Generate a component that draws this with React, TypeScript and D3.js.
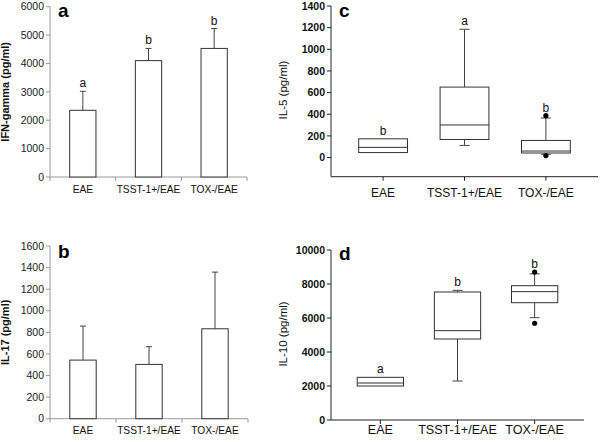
import React from "react";
import * as d3 from "d3";

const categories = ["EAE", "TSST-1+/EAE", "TOX-/EAE"];

// Panel a: IFN-gamma (mean, SD)
const ifnMean = [2350, 4100, 4530];
const ifnSd = [670, 430, 700];
const ifnLetters = ["a", "b", "b"];
const ifnTicks = [0, 1000, 2000, 3000, 4000, 5000, 6000];

// Panel b: IL-17 (mean, SD)
const il17Mean = [543, 503, 833];
const il17Sd = [315, 164, 525];
const il17Ticks = [0, 200, 400, 600, 800, 1000, 1200, 1400, 1600];

// Panel c: IL-5 box plots
const il5Low = [46, 112, 30];
const il5Q1 = [46, 167, 42];
const il5Median = [94, 301, 60];
const il5Q3 = [173, 651, 158];
const il5High = [173, 1185, 365];
const il5Outliers = [[], [], [387, 18]];
const il5Letters = ["b", "a", "b"];
const il5Ticks = [0, 200, 400, 600, 800, 1000, 1200, 1400];

// Panel d: IL-10 box plots
const il10Low = [2000, 2294, 6020];
const il10Q1 = [2000, 4765, 6900];
const il10Median = [2176, 5255, 7550];
const il10Q3 = [2510, 7530, 7900];
const il10High = [2510, 7627, 8600];
const il10Outliers = [[], [], [8706, 5690]];
const il10Letters = ["a", "b", "b"];
const il10Ticks = [0, 2000, 4000, 6000, 8000, 10000];

const FONT = "'Liberation Sans', Arial, Helvetica, sans-serif";

type BarProps = {
  x0: number; x1: number; yTop: number; yBottom: number; max: number;
  means: number[]; sds: number[]; letters?: string[]; ticks: number[];
  panel: string; panelBaseline: number; yLabel: string; yLabelX: number; catBaseline: number;
};

function BarPanel(p: BarProps) {
  const x = d3.scaleBand<string>().domain(categories).range([p.x0, p.x1]).padding(0);
  const y = d3.scaleLinear().domain([0, p.max]).range([p.yBottom, p.yTop]);
  const bw = x.bandwidth() * 0.4;
  const axisColor = "#999";
  const edges = [p.x0, ...categories.map((c) => (x(c) as number) + x.bandwidth())];
  return (
    <g fontFamily={FONT}>
      <line x1={p.x0} x2={p.x0} y1={y(p.max)} y2={y(0)} stroke={axisColor} />
      <line x1={p.x0} x2={p.x1} y1={y(0)} y2={y(0)} stroke={axisColor} />
      {p.ticks.map((t) => (
        <g key={t}>
          <line x1={p.x0 - 4} x2={p.x0} y1={y(t)} y2={y(t)} stroke={axisColor} />
          <text x={p.x0 - 6} y={y(t)} dy="0.35em" textAnchor="end" fontSize={10.5} fill="#222">{t}</text>
        </g>
      ))}
      {edges.map((e, i) => (
        <line key={i} x1={e} x2={e} y1={y(0)} y2={y(0) + 4} stroke={axisColor} />
      ))}
      {categories.map((c, i) => {
        const cx = (x(c) as number) + x.bandwidth() / 2;
        const top = y(p.means[i]);
        const errTop = y(p.means[i] + p.sds[i]);
        return (
          <g key={c}>
            <rect x={cx - bw / 2} y={top} width={bw} height={y(0) - top} fill="#fff" stroke="#333" strokeWidth={1} />
            <line x1={cx} x2={cx} y1={top} y2={errTop} stroke="#444" />
            <line x1={cx - 3} x2={cx + 3} y1={errTop} y2={errTop} stroke="#444" />
            {p.letters && (
              <text x={cx} y={errTop - 4} textAnchor="middle" fontSize={12} fill="#111">{p.letters[i]}</text>
            )}
            <text x={cx} y={p.catBaseline} textAnchor="middle" fontSize={10.2} fill="#111">{c}</text>
          </g>
        );
      })}
      <text x={p.x0 + 8} y={p.panelBaseline} fontSize={19} fontWeight="bold" fill="#000">{p.panel}</text>
      <text transform={`translate(${p.yLabelX},${(y(0) + y(p.max)) / 2}) rotate(-90)`} textAnchor="middle" fontSize={11} fontWeight="bold" fill="#111">{p.yLabel}</text>
    </g>
  );
}

type BoxProps = {
  x0: number; x1: number; yTop: number; yBottom: number; min: number; max: number; yMaxPix: number;
  low: number[]; q1: number[]; median: number[]; q3: number[]; high: number[]; outliers: number[][];
  letters: string[]; ticks: number[]; panel: string; panelBaseline: number; yLabel: string;
  yLabelX: number; catBaseline: number; catSize: number;
};

function BoxPanel(p: BoxProps) {
  const x = d3.scalePoint<string>().domain(categories).range([p.x0, p.x1]).padding(0.64);
  const y = d3.scaleLinear().domain([p.min, p.max]).range([p.yBottom, p.yTop]);
  const bw = x.step() * 0.6;
  return (
    <g fontFamily={FONT}>
      <line x1={p.x0} x2={p.x0} y1={y(p.max)} y2={y(p.min)} stroke="#222" />
      <line x1={p.x0} x2={p.x1} y1={y(p.min)} y2={y(p.min)} stroke="#222" />
      {p.ticks.map((t) => (
        <g key={t}>
          <line x1={p.x0 - 4} x2={p.x0} y1={y(t)} y2={y(t)} stroke="#222" />
          <text x={p.x0 - 6} y={y(t)} dy="0.35em" textAnchor="end" fontSize={10.5} fontWeight="bold" fill="#111">{t}</text>
        </g>
      ))}
      {categories.map((c, i) => {
        const cx = x(c) as number;
        const topVal = Math.max(p.high[i], ...p.outliers[i]);
        return (
          <g key={c}>
            <line x1={cx} x2={cx} y1={y(p.min)} y2={y(p.min) + 4} stroke="#222" />
            <line x1={cx} x2={cx} y1={y(p.q3[i])} y2={y(p.high[i])} stroke="#444" />
            <line x1={cx} x2={cx} y1={y(p.q1[i])} y2={y(p.low[i])} stroke="#444" />
            {p.high[i] > p.q3[i] && <line x1={cx - 5} x2={cx + 5} y1={y(p.high[i])} y2={y(p.high[i])} stroke="#444" />}
            {p.low[i] < p.q1[i] && <line x1={cx - 5} x2={cx + 5} y1={y(p.low[i])} y2={y(p.low[i])} stroke="#444" />}
            <rect x={cx - bw / 2} y={y(p.q3[i])} width={bw} height={y(p.q1[i]) - y(p.q3[i])} fill="#fff" stroke="#333" />
            <line x1={cx - bw / 2} x2={cx + bw / 2} y1={y(p.median[i])} y2={y(p.median[i])} stroke="#333" />
            {p.outliers[i].map((o, j) => (
              <circle key={j} cx={cx} cy={y(o)} r={2.6} fill="#000" />
            ))}
            <text x={cx} y={y(topVal) - 4} textAnchor="middle" fontSize={12} fill="#111">{p.letters[i]}</text>
            <text x={cx} y={p.catBaseline} textAnchor="middle" fontSize={p.catSize} fill="#111">{c}</text>
          </g>
        );
      })}
      <text x={p.x0 + 8} y={p.panelBaseline} fontSize={19} fontWeight="bold" fill="#000">{p.panel}</text>
      <text transform={`translate(${p.yLabelX},${p.yMaxPix}) rotate(-90)`} textAnchor="middle" fontSize={11.5} fill="#111">{p.yLabel}</text>
    </g>
  );
}

export default function App() {
  return (
    <svg width={600} height={442} style={{ position: "absolute", left: 0, top: 0, background: "#fff" }}>
      <rect width={600} height={442} fill="#fff" />
      <BarPanel x0={50} x1={247} yTop={6.7} yBottom={177} max={6000} means={ifnMean} sds={ifnSd}
        letters={ifnLetters} ticks={ifnTicks} panel="a" panelBaseline={17} yLabel="IFN-gamma (pg/ml)"
        yLabelX={9} catBaseline={193} />
      <BarPanel x0={50} x1={248} yTop={246} yBottom={418.7} max={1600} means={il17Mean} sds={il17Sd}
        ticks={il17Ticks} panel="b" panelBaseline={258} yLabel="IL-17 (pg/ml)"
        yLabelX={9} catBaseline={434} />
      <BoxPanel x0={331} x1={598} yTop={6} yBottom={176.7} min={-177} max={1400} yMaxPix={90}
        low={il5Low} q1={il5Q1} median={il5Median} q3={il5Q3} high={il5High} outliers={il5Outliers}
        letters={il5Letters} ticks={il5Ticks} panel="c" panelBaseline={17} yLabel="IL-5 (pg/ml)"
        yLabelX={287} catBaseline={197} catSize={12} />
      <BoxPanel x0={331} x1={584} yTop={250} yBottom={420} min={0} max={10000} yMaxPix={334}
        low={il10Low} q1={il10Q1} median={il10Median} q3={il10Q3} high={il10High} outliers={il10Outliers}
        letters={il10Letters} ticks={il10Ticks} panel="d" panelBaseline={260} yLabel="IL-10 (pg/ml)"
        yLabelX={287} catBaseline={434} catSize={12.6} />
    </svg>
  );
}
